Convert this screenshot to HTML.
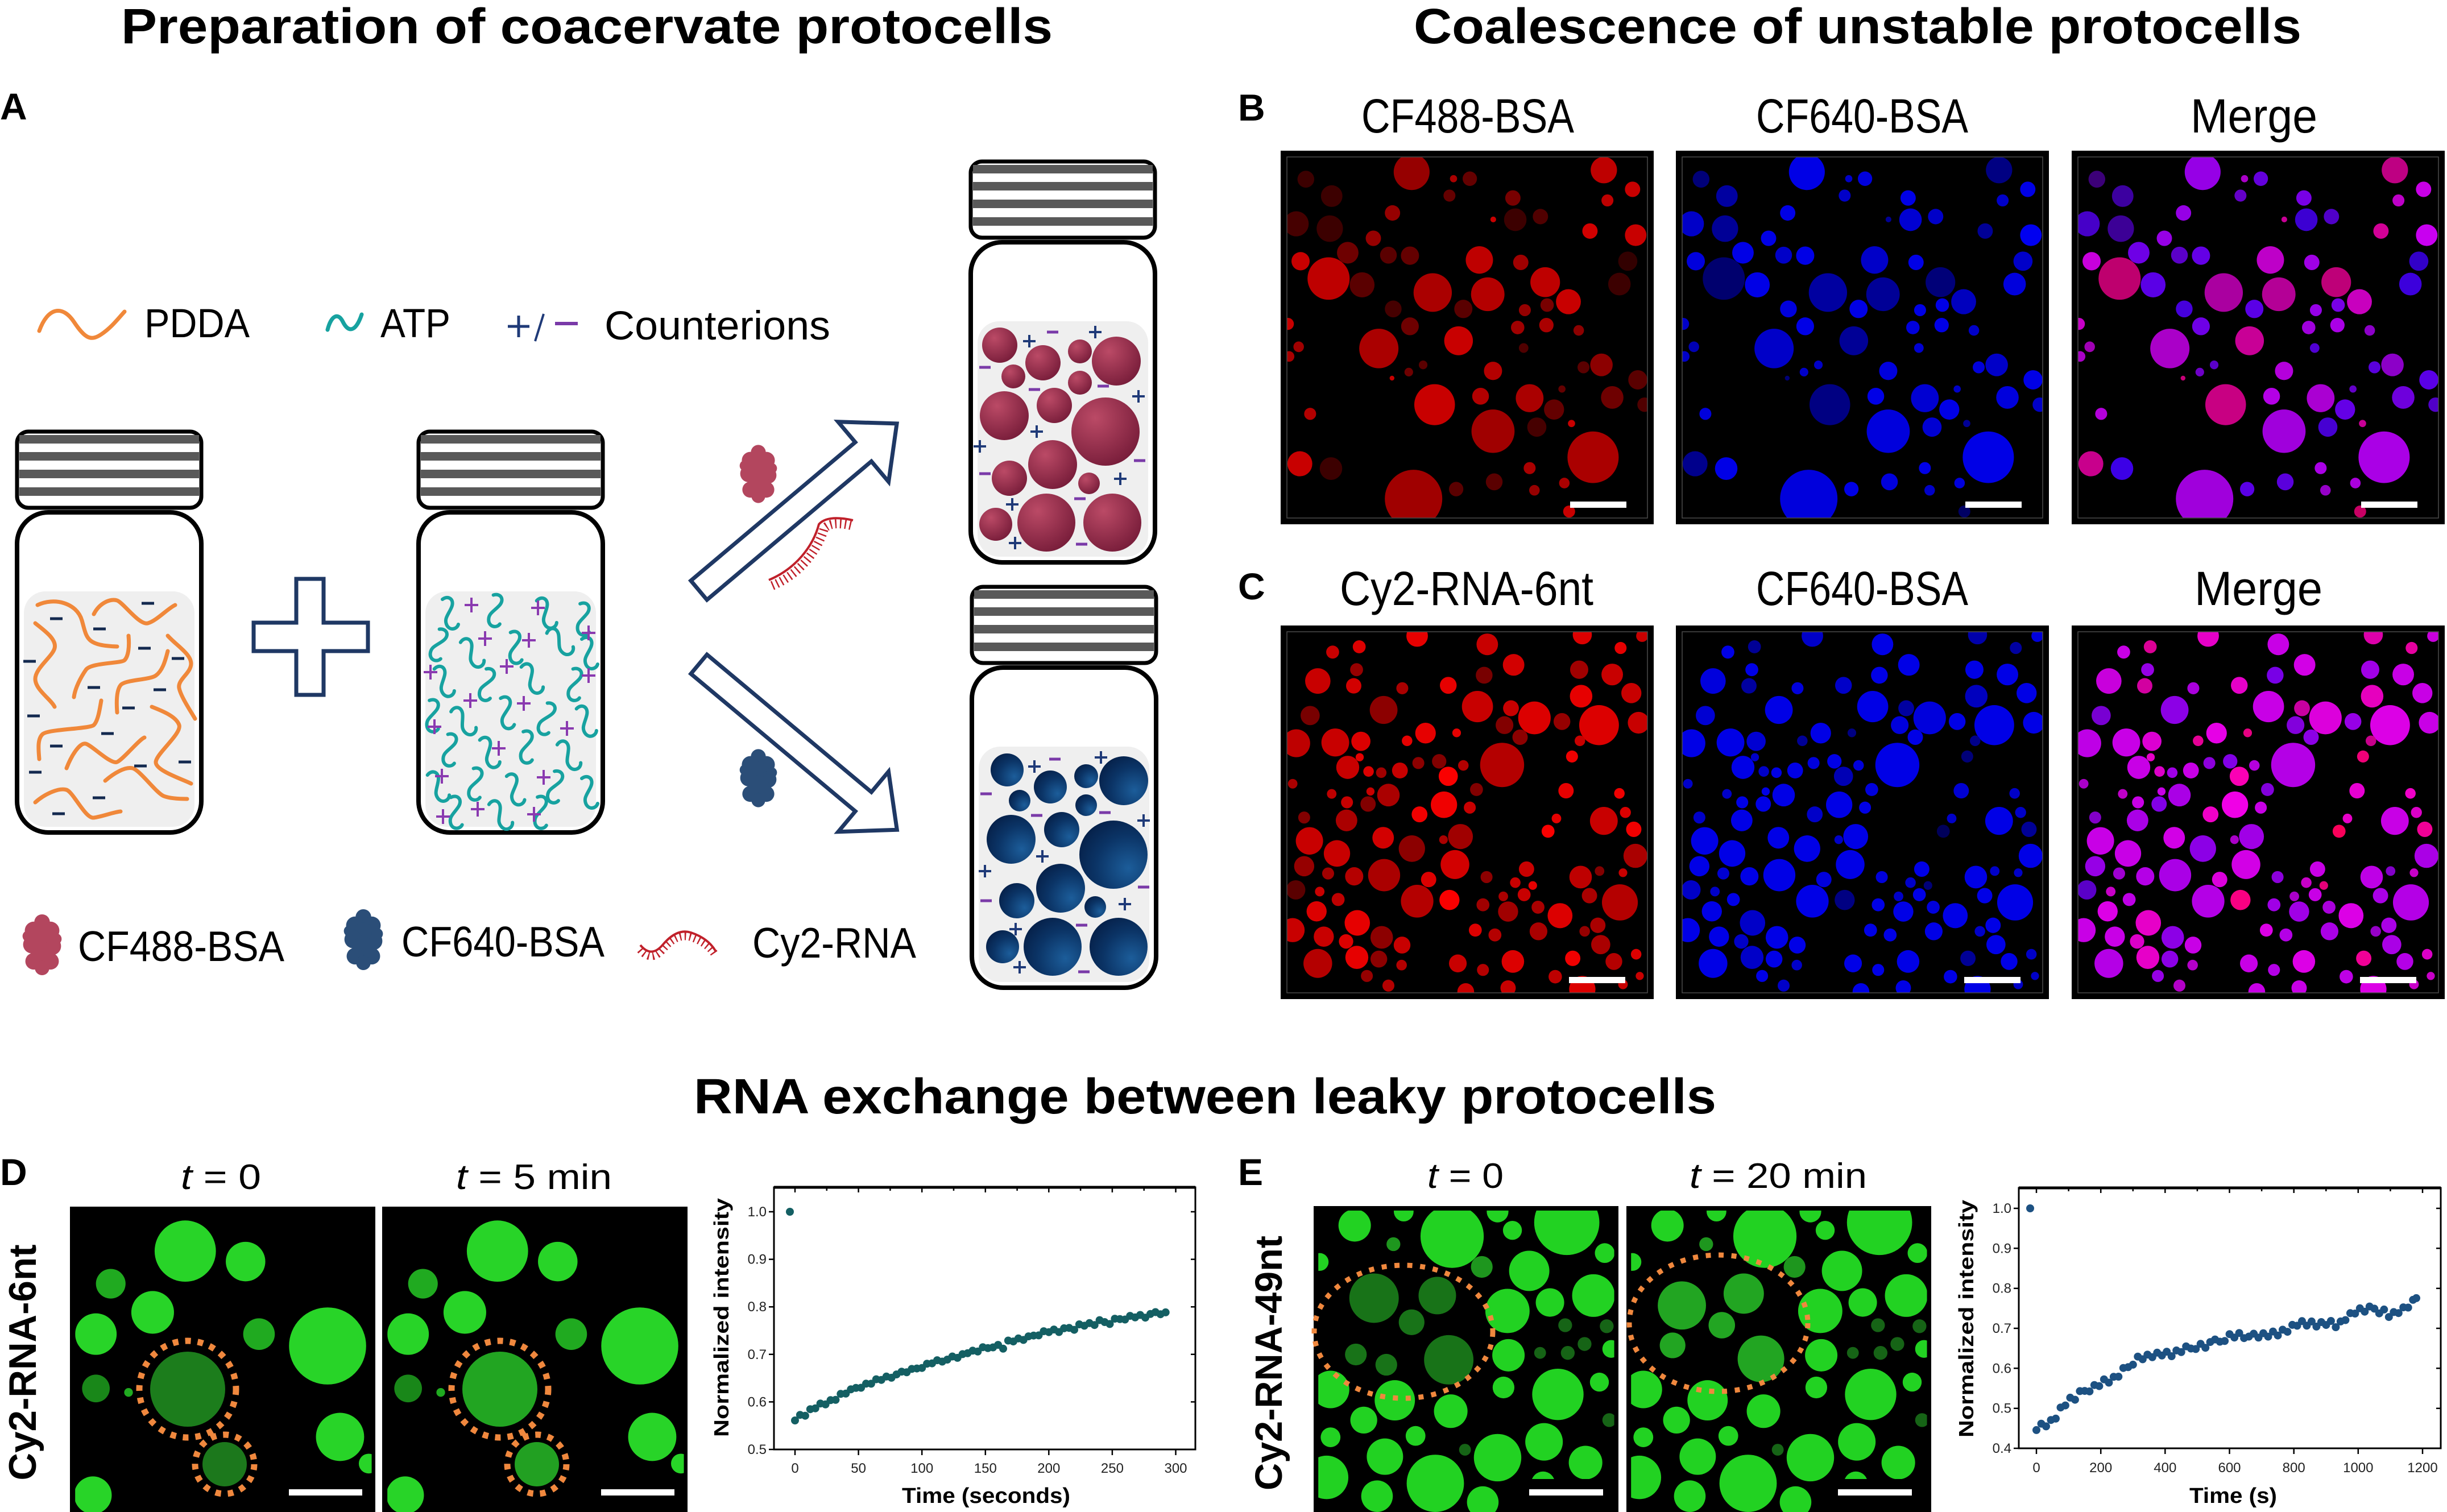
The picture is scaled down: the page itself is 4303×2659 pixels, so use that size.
<!DOCTYPE html>
<html><head><meta charset="utf-8"><style>html,body{margin:0;padding:0;background:#fff}svg{display:block}</style></head><body>
<svg xmlns="http://www.w3.org/2000/svg" width="4303" height="2659" viewBox="0 0 4303 2659" font-family="'Liberation Sans', Arial, sans-serif">
<defs>
<radialGradient id="gm" cx="35%" cy="30%" r="75%"><stop offset="0" stop-color="#bb4a66"/><stop offset="1" stop-color="#781d3a"/></radialGradient>
<radialGradient id="gn" cx="72%" cy="70%" r="80%"><stop offset="0" stop-color="#1c5d9a"/><stop offset="0.6" stop-color="#0b3466"/><stop offset="1" stop-color="#06214a"/></radialGradient>
<filter id="fRed" color-interpolation-filters="sRGB"><feColorMatrix type="matrix" values="1 0 0 0 0  0 0 0 0 0  0 0 0 0 0  0 0 0 1 0"/></filter>
<filter id="fBlue" color-interpolation-filters="sRGB"><feColorMatrix type="matrix" values="0 0 0 0 0  0 0 0 0 0  0 0 1 0 0  0 0 0 1 0"/></filter>
<clipPath id="cpBC"><rect x="32" y="38" width="1504" height="1497"/></clipPath>
<clipPath id="cpD"><rect x="35" y="45" width="1500" height="1530"/></clipPath>
<clipPath id="cpE"><rect x="38" y="40" width="1497" height="1535"/></clipPath>
<g id="vial">
<rect x="3" y="145" width="324" height="563" rx="55" fill="#fff" stroke="#000" stroke-width="8"/>
<rect x="15" y="284" width="300" height="414" rx="38" fill="#efefef"/>
<rect x="3" y="3" width="324" height="134" rx="20" fill="#fff" stroke="#000" stroke-width="7"/>
<rect x="7" y="9" width="316" height="15" fill="#595959"/>
<rect x="7" y="39" width="316" height="15" fill="#595959"/>
<rect x="7" y="70" width="316" height="15" fill="#595959"/>
<rect x="7" y="101" width="316" height="15" fill="#595959"/>
</g>
<g id="pl"><path d="M-11,0h22M0,-11v22" stroke="#1f3a78" stroke-width="4" fill="none"/></g>
<g id="mi"><path d="M-10,0h20" stroke="#7a3aa8" stroke-width="5"/></g>
<g id="mn"><path d="M-11,0h22" stroke="#13294f" stroke-width="5"/></g>
<g id="pp"><path d="M-12,0h24M0,-13v26" stroke="#8a3ab0" stroke-width="4" fill="none"/></g>
<g id="sq"><path d="M-12,-26 C-2,-34 10,-26 4,-12 C-2,2 -10,8 -4,20 C2,30 14,26 16,18" stroke="#17a2a0" stroke-width="6" fill="none" stroke-linecap="round"/></g>
<symbol id="blob" viewBox="0 0 80 110"><circle cx="40" cy="15" r="14"/><circle cx="25" cy="30" r="16"/><circle cx="55" cy="30" r="16"/><circle cx="40" cy="45" r="20"/><circle cx="22" cy="55" r="16"/><circle cx="58" cy="58" r="16"/><circle cx="40" cy="70" r="20"/><circle cx="25" cy="85" r="15"/><circle cx="55" cy="85" r="15"/><circle cx="40" cy="97" r="13"/><circle cx="15" cy="40" r="10"/><circle cx="65" cy="45" r="10"/></symbol>

<g id="bset" transform="translate(2250,260) scale(0.4209,0.4241)" clip-path="url(#cpBC)">
<circle cx="552" cy="100" r="75" fill="rgb(150,0,230)"/><circle cx="1355" cy="92" r="55" fill="rgb(190,0,130)"/><circle cx="1475" cy="172" r="32" fill="rgb(200,0,230)"/><circle cx="1370" cy="218" r="25" fill="rgb(190,0,200)"/><circle cx="110" cy="130" r="35" fill="rgb(60,0,120)"/><circle cx="218" cy="200" r="45" fill="rgb(60,0,160)"/><circle cx="472" cy="270" r="32" fill="rgb(150,0,230)"/><circle cx="70" cy="315" r="52" fill="rgb(70,0,200)"/><circle cx="210" cy="335" r="55" fill="rgb(60,0,150)"/><circle cx="392" cy="375" r="32" fill="rgb(150,0,230)"/><circle cx="285" cy="435" r="45" fill="rgb(110,0,230)"/><circle cx="88" cy="470" r="38" fill="rgb(200,0,220)"/><circle cx="205" cy="542" r="88" fill="rgb(190,0,110)"/><circle cx="345" cy="568" r="52" fill="rgb(90,0,230)"/><circle cx="455" cy="445" r="35" fill="rgb(90,0,200)"/><circle cx="545" cy="447" r="38" fill="rgb(100,0,230)"/><circle cx="640" cy="600" r="80" fill="rgb(170,0,160)"/><circle cx="835" cy="465" r="57" fill="rgb(190,0,200)"/><circle cx="870" cy="607" r="70" fill="rgb(180,0,150)"/><circle cx="768" cy="668" r="38" fill="rgb(90,0,230)"/><circle cx="727" cy="128" r="15" fill="rgb(170,0,200)"/><circle cx="795" cy="128" r="30" fill="rgb(100,0,220)"/><circle cx="710" cy="198" r="25" fill="rgb(100,0,200)"/><circle cx="975" cy="208" r="32" fill="rgb(120,0,230)"/><circle cx="985" cy="298" r="47" fill="rgb(60,0,210)"/><circle cx="1090" cy="285" r="32" fill="rgb(80,0,200)"/><circle cx="1297" cy="345" r="32" fill="rgb(210,0,150)"/><circle cx="1488" cy="362" r="45" fill="rgb(200,0,240)"/><circle cx="1008" cy="475" r="32" fill="rgb(160,0,230)"/><circle cx="1110" cy="557" r="62" fill="rgb(190,0,120)"/><circle cx="1207" cy="638" r="52" fill="rgb(200,0,190)"/><circle cx="1118" cy="652" r="28" fill="rgb(120,0,230)"/><circle cx="1025" cy="673" r="25" fill="rgb(150,0,230)"/><circle cx="1420" cy="565" r="47" fill="rgb(60,0,220)"/><circle cx="1455" cy="470" r="40" fill="rgb(50,0,200)"/><circle cx="545" cy="740" r="37" fill="rgb(110,0,230)"/><circle cx="475" cy="668" r="35" fill="rgb(70,0,220)"/><circle cx="35" cy="730" r="25" fill="rgb(200,0,200)"/><circle cx="415" cy="832" r="82" fill="rgb(170,0,200)"/><circle cx="748" cy="800" r="60" fill="rgb(200,0,150)"/><circle cx="995" cy="745" r="28" fill="rgb(160,0,220)"/><circle cx="1115" cy="735" r="30" fill="rgb(170,0,230)"/><circle cx="1250" cy="757" r="22" fill="rgb(140,0,200)"/><circle cx="80" cy="825" r="22" fill="rgb(160,0,180)"/><circle cx="40" cy="865" r="22" fill="rgb(170,0,200)"/><circle cx="892" cy="925" r="38" fill="rgb(180,0,220)"/><circle cx="1345" cy="900" r="47" fill="rgb(140,0,200)"/><circle cx="1497" cy="962" r="40" fill="rgb(90,0,230)"/><circle cx="648" cy="1065" r="85" fill="rgb(200,0,130)"/><circle cx="840" cy="1030" r="35" fill="rgb(180,0,230)"/><circle cx="1045" cy="1038" r="58" fill="rgb(170,0,210)"/><circle cx="1147" cy="1085" r="42" fill="rgb(100,0,230)"/><circle cx="1390" cy="1035" r="47" fill="rgb(110,0,220)"/><circle cx="1525" cy="1065" r="30" fill="rgb(80,0,200)"/><circle cx="892" cy="1175" r="90" fill="rgb(160,0,220)"/><circle cx="1075" cy="1158" r="40" fill="rgb(70,0,210)"/><circle cx="1310" cy="1283" r="107" fill="rgb(170,0,230)"/><circle cx="128" cy="1103" r="25" fill="rgb(180,0,220)"/><circle cx="85" cy="1310" r="52" fill="rgb(200,0,140)"/><circle cx="215" cy="1330" r="47" fill="rgb(60,0,230)"/><circle cx="560" cy="1455" r="120" fill="rgb(160,0,220)"/><circle cx="738" cy="1415" r="30" fill="rgb(90,0,230)"/><circle cx="897" cy="1385" r="35" fill="rgb(90,0,220)"/><circle cx="1045" cy="1328" r="25" fill="rgb(170,0,230)"/><circle cx="1065" cy="1420" r="22" fill="rgb(150,0,200)"/><circle cx="1190" cy="1390" r="22" fill="rgb(170,0,220)"/><circle cx="1210" cy="1508" r="25" fill="rgb(200,0,100)"/><circle cx="1220" cy="1143" r="15" fill="rgb(200,0,150)"/><circle cx="540" cy="930" r="18" fill="rgb(110,0,200)"/><circle cx="600" cy="900" r="18" fill="rgb(90,0,200)"/><circle cx="470" cy="955" r="10" fill="rgb(200,0,120)"/><circle cx="893" cy="297" r="12" fill="rgb(200,0,150)"/><circle cx="1180" cy="1000" r="15" fill="rgb(100,0,200)"/><circle cx="1270" cy="910" r="25" fill="rgb(90,0,220)"/><circle cx="1020" cy="830" r="20" fill="rgb(80,0,210)"/>
</g>

<g id="cset" transform="translate(2250,1095) scale(0.4209,0.4241)" clip-path="url(#cpBC)">
<circle cx="575" cy="55" r="45" fill="rgb(230,0,200)"/><circle cx="868" cy="90" r="45" fill="rgb(200,0,230)"/><circle cx="1265" cy="50" r="40" fill="rgb(220,0,170)"/><circle cx="1515" cy="55" r="25" fill="rgb(200,0,220)"/><circle cx="333" cy="100" r="27" fill="rgb(220,0,150)"/><circle cx="222" cy="122" r="27" fill="rgb(200,0,230)"/><circle cx="978" cy="175" r="45" fill="rgb(210,0,230)"/><circle cx="1425" cy="105" r="25" fill="rgb(230,0,160)"/><circle cx="1252" cy="195" r="38" fill="rgb(160,0,230)"/><circle cx="1390" cy="215" r="45" fill="rgb(200,0,230)"/><circle cx="160" cy="242" r="53" fill="rgb(200,0,220)"/><circle cx="310" cy="262" r="32" fill="rgb(210,0,160)"/><circle cx="322" cy="195" r="27" fill="rgb(150,0,230)"/><circle cx="513" cy="272" r="25" fill="rgb(170,0,220)"/><circle cx="705" cy="260" r="35" fill="rgb(230,0,200)"/><circle cx="855" cy="218" r="35" fill="rgb(120,0,230)"/><circle cx="1260" cy="305" r="47" fill="rgb(230,0,190)"/><circle cx="1470" cy="292" r="42" fill="rgb(200,0,230)"/><circle cx="435" cy="362" r="58" fill="rgb(140,0,230)"/><circle cx="128" cy="385" r="40" fill="rgb(120,0,210)"/><circle cx="827" cy="348" r="65" fill="rgb(200,0,230)"/><circle cx="967" cy="355" r="33" fill="rgb(200,0,160)"/><circle cx="1065" cy="395" r="68" fill="rgb(220,0,220)"/><circle cx="1180" cy="410" r="35" fill="rgb(150,0,230)"/><circle cx="1335" cy="425" r="83" fill="rgb(220,0,230)"/><circle cx="1500" cy="415" r="45" fill="rgb(200,0,230)"/><circle cx="940" cy="425" r="37" fill="rgb(130,0,220)"/><circle cx="1005" cy="475" r="32" fill="rgb(140,0,230)"/><circle cx="70" cy="500" r="58" fill="rgb(190,0,230)"/><circle cx="233" cy="497" r="58" fill="rgb(200,0,230)"/><circle cx="340" cy="492" r="40" fill="rgb(220,0,210)"/><circle cx="610" cy="458" r="43" fill="rgb(230,0,230)"/><circle cx="740" cy="457" r="18" fill="rgb(230,0,130)"/><circle cx="533" cy="490" r="22" fill="rgb(230,0,150)"/><circle cx="930" cy="590" r="92" fill="rgb(180,0,230)"/><circle cx="1255" cy="490" r="22" fill="rgb(200,0,140)"/><circle cx="1222" cy="555" r="25" fill="rgb(240,0,120)"/><circle cx="285" cy="600" r="48" fill="rgb(200,0,230)"/><circle cx="335" cy="558" r="17" fill="rgb(230,0,200)"/><circle cx="503" cy="613" r="33" fill="rgb(200,0,230)"/><circle cx="372" cy="617" r="22" fill="rgb(220,0,200)"/><circle cx="425" cy="622" r="22" fill="rgb(160,0,230)"/><circle cx="580" cy="582" r="25" fill="rgb(140,0,220)"/><circle cx="667" cy="575" r="30" fill="rgb(130,0,230)"/><circle cx="705" cy="637" r="40" fill="rgb(250,0,180)"/><circle cx="768" cy="592" r="22" fill="rgb(180,0,220)"/><circle cx="55" cy="668" r="20" fill="rgb(170,0,200)"/><circle cx="455" cy="715" r="47" fill="rgb(170,0,230)"/><circle cx="687" cy="755" r="55" fill="rgb(240,0,230)"/><circle cx="585" cy="795" r="33" fill="rgb(240,0,200)"/><circle cx="380" cy="700" r="17" fill="rgb(200,0,230)"/><circle cx="370" cy="752" r="32" fill="rgb(130,0,230)"/><circle cx="282" cy="745" r="25" fill="rgb(200,0,230)"/><circle cx="218" cy="710" r="20" fill="rgb(190,0,200)"/><circle cx="823" cy="692" r="27" fill="rgb(130,0,220)"/><circle cx="795" cy="767" r="25" fill="rgb(200,0,230)"/><circle cx="1197" cy="697" r="32" fill="rgb(230,0,210)"/><circle cx="1420" cy="708" r="22" fill="rgb(240,0,200)"/><circle cx="280" cy="820" r="45" fill="rgb(170,0,230)"/><circle cx="103" cy="808" r="25" fill="rgb(130,0,200)"/><circle cx="1355" cy="822" r="58" fill="rgb(200,0,230)"/><circle cx="1157" cy="812" r="20" fill="rgb(230,0,200)"/><circle cx="1122" cy="865" r="27" fill="rgb(250,0,90)"/><circle cx="1480" cy="857" r="32" fill="rgb(240,0,150)"/><circle cx="1445" cy="787" r="23" fill="rgb(220,0,200)"/><circle cx="125" cy="905" r="57" fill="rgb(200,0,230)"/><circle cx="433" cy="892" r="45" fill="rgb(210,0,230)"/><circle cx="553" cy="937" r="55" fill="rgb(140,0,230)"/><circle cx="756" cy="887" r="52" fill="rgb(160,0,230)"/><circle cx="240" cy="957" r="55" fill="rgb(200,0,230)"/><circle cx="685" cy="900" r="18" fill="rgb(170,0,200)"/><circle cx="1487" cy="967" r="50" fill="rgb(170,0,230)"/><circle cx="103" cy="1010" r="42" fill="rgb(150,0,230)"/><circle cx="437" cy="1047" r="67" fill="rgb(170,0,230)"/><circle cx="312" cy="1052" r="38" fill="rgb(180,0,230)"/><circle cx="203" cy="1040" r="25" fill="rgb(160,0,210)"/><circle cx="733" cy="1003" r="60" fill="rgb(210,0,230)"/><circle cx="623" cy="1065" r="32" fill="rgb(220,0,220)"/><circle cx="1032" cy="1022" r="32" fill="rgb(200,0,230)"/><circle cx="1258" cy="1055" r="47" fill="rgb(190,0,230)"/><circle cx="1337" cy="1030" r="20" fill="rgb(130,0,200)"/><circle cx="1435" cy="1037" r="18" fill="rgb(200,0,200)"/><circle cx="865" cy="1055" r="25" fill="rgb(140,0,220)"/><circle cx="985" cy="1078" r="22" fill="rgb(200,0,200)"/><circle cx="1058" cy="1090" r="18" fill="rgb(230,0,120)"/><circle cx="68" cy="1108" r="40" fill="rgb(90,0,200)"/><circle cx="575" cy="1155" r="68" fill="rgb(180,0,230)"/><circle cx="710" cy="1150" r="42" fill="rgb(250,0,130)"/><circle cx="1422" cy="1160" r="75" fill="rgb(180,0,230)"/><circle cx="1295" cy="1132" r="32" fill="rgb(170,0,230)"/><circle cx="168" cy="1115" r="20" fill="rgb(200,0,200)"/><circle cx="245" cy="1148" r="27" fill="rgb(190,0,230)"/><circle cx="1022" cy="1128" r="27" fill="rgb(200,0,230)"/><circle cx="935" cy="1135" r="20" fill="rgb(170,0,200)"/><circle cx="155" cy="1197" r="42" fill="rgb(220,0,230)"/><circle cx="325" cy="1245" r="53" fill="rgb(230,0,200)"/><circle cx="55" cy="1275" r="50" fill="rgb(200,0,230)"/><circle cx="955" cy="1198" r="42" fill="rgb(160,0,230)"/><circle cx="1172" cy="1215" r="52" fill="rgb(220,0,230)"/><circle cx="850" cy="1170" r="27" fill="rgb(160,0,230)"/><circle cx="1080" cy="1180" r="27" fill="rgb(170,0,220)"/><circle cx="1330" cy="1255" r="32" fill="rgb(170,0,230)"/><circle cx="185" cy="1302" r="42" fill="rgb(200,0,230)"/><circle cx="427" cy="1305" r="47" fill="rgb(140,0,230)"/><circle cx="512" cy="1337" r="35" fill="rgb(200,0,230)"/><circle cx="278" cy="1322" r="30" fill="rgb(220,0,200)"/><circle cx="818" cy="1275" r="27" fill="rgb(220,0,230)"/><circle cx="900" cy="1295" r="27" fill="rgb(180,0,230)"/><circle cx="1082" cy="1280" r="37" fill="rgb(170,0,230)"/><circle cx="1275" cy="1280" r="22" fill="rgb(150,0,200)"/><circle cx="160" cy="1413" r="60" fill="rgb(180,0,230)"/><circle cx="323" cy="1388" r="48" fill="rgb(230,0,200)"/><circle cx="415" cy="1395" r="35" fill="rgb(140,0,230)"/><circle cx="745" cy="1413" r="37" fill="rgb(200,0,230)"/><circle cx="850" cy="1440" r="25" fill="rgb(180,0,230)"/><circle cx="975" cy="1405" r="47" fill="rgb(220,0,230)"/><circle cx="1225" cy="1392" r="32" fill="rgb(240,0,150)"/><circle cx="1342" cy="1335" r="40" fill="rgb(170,0,230)"/><circle cx="1490" cy="1375" r="22" fill="rgb(220,0,200)"/><circle cx="1397" cy="1405" r="35" fill="rgb(180,0,230)"/><circle cx="1152" cy="1468" r="28" fill="rgb(190,0,230)"/><circle cx="1265" cy="1520" r="55" fill="rgb(220,0,230)"/><circle cx="955" cy="1515" r="32" fill="rgb(200,0,230)"/><circle cx="778" cy="1530" r="35" fill="rgb(200,0,230)"/><circle cx="510" cy="1420" r="22" fill="rgb(180,0,200)"/><circle cx="365" cy="1465" r="25" fill="rgb(150,0,230)"/><circle cx="455" cy="1505" r="25" fill="rgb(180,0,200)"/><circle cx="1505" cy="1465" r="17" fill="rgb(200,0,200)"/><circle cx="1435" cy="1500" r="20" fill="rgb(200,0,200)"/>
</g>

<g id="dset" transform="translate(120,2115) scale(0.3476)" clip-path="url(#cpD)">
<g fill="rgb(40,212,40)"><circle cx="592" cy="245" r="155"/><circle cx="897" cy="298" r="100"/><circle cx="427" cy="555" r="108"/><circle cx="140" cy="665" r="105"/><circle cx="1312" cy="725" r="195"/><circle cx="1375" cy="1185" r="122"/><circle cx="1520" cy="1320" r="50"/><circle cx="125" cy="1480" r="95"/></g>
<g fill="rgb(32,170,32)"><circle cx="215" cy="410" r="75"/><circle cx="965" cy="665" r="80"/><circle cx="305" cy="960" r="22"/></g>
<circle cx="140" cy="940" r="70" fill="rgb(25,135,25)"/>
</g>

<g id="eset" transform="translate(2305,2115) scale(0.3476)" clip-path="url(#cpE)">
<g fill="rgb(34,210,34)"><circle cx="222" cy="115" r="82"/><circle cx="715" cy="170" r="160"/><circle cx="1020" cy="140" r="48"/><circle cx="1295" cy="100" r="165"/><circle cx="470" cy="45" r="50"/><circle cx="945" cy="45" r="55"/><circle cx="1487" cy="255" r="50"/><circle cx="45" cy="300" r="45"/><circle cx="1105" cy="345" r="102"/><circle cx="995" cy="548" r="112"/><circle cx="1210" cy="505" r="72"/><circle cx="1430" cy="470" r="108"/><circle cx="1000" cy="772" r="82"/><circle cx="1520" cy="740" r="45"/><circle cx="100" cy="945" r="95"/><circle cx="975" cy="935" r="55"/><circle cx="1250" cy="970" r="130"/><circle cx="1460" cy="908" r="48"/><circle cx="425" cy="1000" r="102"/><circle cx="708" cy="1055" r="85"/><circle cx="268" cy="1100" r="68"/><circle cx="100" cy="1187" r="50"/><circle cx="530" cy="1180" r="50"/><circle cx="375" cy="1285" r="92"/><circle cx="945" cy="1290" r="120"/><circle cx="1180" cy="1210" r="95"/><circle cx="1390" cy="1315" r="85"/><circle cx="80" cy="1390" r="110"/><circle cx="630" cy="1420" r="145"/><circle cx="335" cy="1485" r="80"/><circle cx="870" cy="1515" r="80"/><circle cx="1175" cy="1420" r="60"/></g>
<g fill="rgb(30,150,30)"><circle cx="865" cy="325" r="55"/><circle cx="418" cy="210" r="35"/></g>
<g fill="rgb(22,100,22)"><circle cx="1287" cy="620" r="35"/><circle cx="1497" cy="625" r="35"/><circle cx="1385" cy="715" r="35"/><circle cx="1300" cy="760" r="35"/><circle cx="1160" cy="760" r="30"/><circle cx="780" cy="1250" r="30"/><circle cx="1510" cy="1100" r="35"/></g>
</g>
</defs>

<rect width="4303" height="2659" fill="#fff"/>

<!-- Titles -->
<text x="213" y="76" font-size="87" font-weight="bold" textLength="1638" lengthAdjust="spacingAndGlyphs">Preparation of coacervate protocells</text>
<text x="2486" y="76" font-size="87" font-weight="bold" textLength="1561" lengthAdjust="spacingAndGlyphs">Coalescence of unstable protocells</text>
<text x="1220" y="1958" font-size="87" font-weight="bold" textLength="1798" lengthAdjust="spacingAndGlyphs">RNA exchange between leaky protocells</text>

<!-- Panel letters -->
<g font-size="66" font-weight="bold">
<text x="0" y="210">A</text>
<text x="2177" y="212">B</text>
<text x="2177" y="1054">C</text>
<text x="0" y="2084">D</text>
<text x="2177" y="2084">E</text>
</g>

<!-- Panel A legend top -->
<path d="M69,582 C84,540 110,536 130,566 S160,600 178,588 S208,560 219,548" stroke="#f0883a" stroke-width="7" fill="none" stroke-linecap="round"/>
<text x="254" y="593" font-size="71" textLength="185" lengthAdjust="spacingAndGlyphs">PDDA</text>
<path d="M576,580 C582,556 594,548 603,566 S625,586 636,553" stroke="#17a2a0" stroke-width="7" fill="none" stroke-linecap="round"/>
<text x="669" y="593" font-size="71" textLength="123" lengthAdjust="spacingAndGlyphs">ATP</text>
<path d="M893,574h38M912,555v38" stroke="#1f3a78" stroke-width="5"/>
<path d="M956,552 L941,600" stroke="#1f3a78" stroke-width="4"/>
<rect x="976" y="566" width="40" height="6" fill="#7a3aa8"/>
<text x="1063" y="597" font-size="71" textLength="397" lengthAdjust="spacingAndGlyphs">Counterions</text>

<!-- Vials -->
<use href="#vial" x="27" y="756"/>
<use href="#vial" x="733" y="756"/>
<use href="#vial" x="1704" y="281"/>
<use href="#vial" x="1706" y="1029"/>

<!-- Vial 1 PDDA strands -->
<g stroke="#f0883a" stroke-width="7" fill="none" stroke-linecap="round">
<path d="M66,1064 C95,1050 135,1060 144,1091 S150,1135 206,1137"/>
<path d="M165,1080 C175,1060 195,1052 206,1056 S245,1100 260,1096 S295,1070 308,1064"/>
<path d="M62,1096 C80,1110 100,1125 96,1140 S62,1175 62,1194 S90,1230 96,1243"/>
<path d="M226,1118 C228,1140 225,1155 219,1161 S160,1165 151,1178 S132,1210 130,1226"/>
<path d="M295,1118 C310,1135 336,1150 336,1167 S312,1195 315,1210 S335,1250 343,1264"/>
<path d="M295,1145 C290,1165 285,1180 274,1188 S220,1195 212,1205 S205,1240 206,1253"/>
<path d="M178,1232 C175,1250 172,1268 165,1275 S85,1282 75,1291 S68,1320 69,1335"/>
<path d="M267,1243 C285,1250 310,1260 315,1275 S275,1325 274,1340 S320,1370 336,1378"/>
<path d="M117,1351 C125,1330 140,1305 151,1308 S195,1345 206,1340 S245,1300 254,1297"/>
<path d="M185,1373 C200,1360 220,1348 233,1351 S275,1395 288,1400 S320,1405 329,1405"/>
<path d="M62,1411 C80,1395 105,1385 117,1389 S150,1440 165,1438 S200,1428 212,1427"/>
</g>
<use href="#mn" x="260" y="1061"/><use href="#mn" x="99" y="1088"/><use href="#mn" x="175" y="1106"/><use href="#mn" x="254" y="1140"/><use href="#mn" x="313" y="1158"/><use href="#mn" x="52" y="1163"/><use href="#mn" x="165" y="1209"/><use href="#mn" x="281" y="1213"/><use href="#mn" x="226" y="1245"/><use href="#mn" x="59" y="1259"/><use href="#mn" x="189" y="1290"/><use href="#mn" x="99" y="1312"/><use href="#mn" x="247" y="1347"/><use href="#mn" x="325" y="1340"/><use href="#mn" x="62" y="1358"/><use href="#mn" x="174" y="1403"/><use href="#mn" x="103" y="1431"/>

<!-- Vial 2 ATP -->
<use href="#sq" transform="translate(790,1080) rotate(0)"/><use href="#sq" transform="translate(870,1075) rotate(20)"/><use href="#sq" transform="translate(960,1080) rotate(-10)"/><use href="#sq" transform="translate(1025,1090) rotate(15)"/>
<use href="#sq" transform="translate(770,1135) rotate(30)"/><use href="#sq" transform="translate(830,1150) rotate(-20)"/><use href="#sq" transform="translate(905,1140) rotate(10)"/><use href="#sq" transform="translate(985,1130) rotate(-30)"/><use href="#sq" transform="translate(1035,1150) rotate(0)"/>
<use href="#sq" transform="translate(780,1200) rotate(-10)"/><use href="#sq" transform="translate(855,1205) rotate(25)"/><use href="#sq" transform="translate(935,1195) rotate(-15)"/><use href="#sq" transform="translate(1010,1205) rotate(20)"/>
<use href="#sq" transform="translate(760,1260) rotate(15)"/><use href="#sq" transform="translate(815,1270) rotate(-25)"/><use href="#sq" transform="translate(890,1255) rotate(5)"/><use href="#sq" transform="translate(960,1265) rotate(30)"/><use href="#sq" transform="translate(1030,1270) rotate(-10)"/>
<use href="#sq" transform="translate(790,1320) rotate(20)"/><use href="#sq" transform="translate(860,1325) rotate(-10)"/><use href="#sq" transform="translate(925,1315) rotate(15)"/><use href="#sq" transform="translate(1000,1330) rotate(-20)"/>
<use href="#sq" transform="translate(770,1385) rotate(-15)"/><use href="#sq" transform="translate(835,1380) rotate(20)"/><use href="#sq" transform="translate(905,1390) rotate(-5)"/><use href="#sq" transform="translate(975,1385) rotate(25)"/><use href="#sq" transform="translate(1035,1395) rotate(0)"/>
<use href="#sq" transform="translate(800,1430) rotate(10)"/><use href="#sq" transform="translate(880,1435) rotate(-20)"/><use href="#sq" transform="translate(950,1430) rotate(15)"/>
<use href="#pp" x="829" y="1064"/><use href="#pp" x="946" y="1069"/><use href="#pp" x="853" y="1123"/><use href="#pp" x="930" y="1126"/><use href="#pp" x="1035" y="1113"/><use href="#pp" x="757" y="1182"/><use href="#pp" x="891" y="1172"/><use href="#pp" x="1035" y="1188"/><use href="#pp" x="827" y="1232"/><use href="#pp" x="921" y="1237"/><use href="#pp" x="764" y="1278"/><use href="#pp" x="997" y="1281"/><use href="#pp" x="877" y="1316"/><use href="#pp" x="777" y="1365"/><use href="#pp" x="956" y="1367"/><use href="#pp" x="840" y="1423"/><use href="#pp" x="779" y="1436"/><use href="#pp" x="939" y="1432"/>

<!-- Big plus -->
<polygon points="521,1018 569,1018 569,1095 647,1095 647,1145 569,1145 569,1222 521,1222 521,1145 446,1145 446,1095 521,1095" fill="#fff" stroke="#1f3864" stroke-width="7" stroke-linejoin="miter"/>

<!-- Arrows -->
<polygon transform="translate(1229,1038) rotate(-40.1)" points="0,-22 378,-22 378,-69 455,0 378,69 378,22 0,22" fill="#fff" stroke="#1f3864" stroke-width="7"/>
<polygon transform="translate(1229,1168) rotate(39.9)" points="0,-22 377,-22 377,-69 454,0 377,69 377,22 0,22" fill="#fff" stroke="#1f3864" stroke-width="7"/>

<!-- Proteins / RNA near arrows -->
<use href="#blob" x="1296" y="778" width="75" height="110" fill="#b3465e"/>
<use href="#blob" x="1296" y="1313" width="75" height="110" fill="#2b4e78"/>
<path d="M1352,1020 C1400,1000 1430,960 1440,922 Q1455,905 1500,915" stroke="#c0202a" stroke-width="4" fill="none"/>
<path d="M1358,1030 C1406,1010 1438,968 1449,930 Q1462,915 1500,925" stroke="#c0202a" stroke-width="16" fill="none" stroke-dasharray="2.5 6"/>

<!-- Vial 3 droplets -->
<g fill="url(#gm)">
<circle cx="1758" cy="607" r="31"/><circle cx="1834" cy="638" r="31"/><circle cx="1899" cy="618" r="21"/><circle cx="1963" cy="635" r="43"/><circle cx="1782" cy="662" r="21"/><circle cx="1899" cy="673" r="21"/><circle cx="1766" cy="731" r="43"/><circle cx="1854" cy="713" r="31"/><circle cx="1944" cy="759" r="60"/><circle cx="1851" cy="817" r="43"/><circle cx="1775" cy="841" r="31"/><circle cx="1915" cy="850" r="19"/><circle cx="1751" cy="922" r="29"/><circle cx="1840" cy="919" r="51"/><circle cx="1956" cy="919" r="51"/>
</g>
<use href="#pl" x="1810" y="600"/><use href="#pl" x="1926" y="584"/><use href="#pl" x="2002" y="697"/><use href="#pl" x="1823" y="759"/><use href="#pl" x="1723" y="785"/><use href="#pl" x="1970" y="842"/><use href="#pl" x="1780" y="887"/><use href="#pl" x="1785" y="955"/>
<use href="#mi" x="1851" y="584"/><use href="#mi" x="1732" y="646"/><use href="#mi" x="1819" y="685"/><use href="#mi" x="1940" y="679"/><use href="#mi" x="2004" y="810"/><use href="#mi" x="1732" y="833"/><use href="#mi" x="1899" y="877"/><use href="#mi" x="1902" y="957"/>

<!-- Vial 4 droplets -->
<g fill="url(#gn)">
<circle cx="1771" cy="1354" r="29"/><circle cx="1847" cy="1384" r="29"/><circle cx="1910" cy="1365" r="21"/><circle cx="1976" cy="1373" r="43"/><circle cx="1793" cy="1408" r="19"/><circle cx="1910" cy="1416" r="19"/><circle cx="1778" cy="1476" r="43"/><circle cx="1867" cy="1459" r="31"/><circle cx="1958" cy="1503" r="60"/><circle cx="1865" cy="1562" r="43"/><circle cx="1788" cy="1584" r="31"/><circle cx="1926" cy="1595" r="19"/><circle cx="1763" cy="1665" r="29"/><circle cx="1851" cy="1665" r="51"/><circle cx="1967" cy="1665" r="51"/>
</g>
<use href="#pl" x="1819" y="1348"/><use href="#pl" x="1936" y="1332"/><use href="#pl" x="2011" y="1443"/><use href="#pl" x="1833" y="1506"/><use href="#pl" x="1732" y="1532"/><use href="#pl" x="1978" y="1590"/><use href="#pl" x="1786" y="1634"/><use href="#pl" x="1793" y="1701"/>
<use href="#mi" x="1855" y="1335"/><use href="#mi" x="1734" y="1396"/><use href="#mi" x="1823" y="1434"/><use href="#mi" x="1943" y="1429"/><use href="#mi" x="2011" y="1560"/><use href="#mi" x="1734" y="1584"/><use href="#mi" x="1902" y="1627"/><use href="#mi" x="1906" y="1709"/>

<!-- Bottom legend A -->
<use href="#blob" x="34" y="1607" width="80" height="108" fill="#b3465e"/>
<text x="137" y="1690" font-size="75" textLength="363" lengthAdjust="spacingAndGlyphs">CF488-BSA</text>
<use href="#blob" x="599" y="1598" width="80" height="108" fill="#2b4e78"/>
<text x="706" y="1682" font-size="75" textLength="357" lengthAdjust="spacingAndGlyphs">CF640-BSA</text>
<path d="M1126,1662 Q1145,1685 1165,1662 Q1190,1632 1215,1640 Q1245,1650 1258,1672" stroke="#c0202a" stroke-width="4" fill="none"/>
<path d="M1126,1670 Q1145,1693 1165,1670 Q1190,1640 1215,1648 Q1245,1658 1258,1680" stroke="#c0202a" stroke-width="14" fill="none" stroke-dasharray="2.5 6"/>
<text x="1323" y="1684" font-size="75" textLength="288" lengthAdjust="spacingAndGlyphs">Cy2-RNA</text>

<!-- Panel B/C headers -->
<g font-size="84">
<text x="2394" y="233" textLength="374" lengthAdjust="spacingAndGlyphs">CF488-BSA</text>
<text x="3088" y="233" textLength="373" lengthAdjust="spacingAndGlyphs">CF640-BSA</text>
<text x="3852" y="233" textLength="223" lengthAdjust="spacingAndGlyphs">Merge</text>
<text x="2356" y="1064" textLength="446" lengthAdjust="spacingAndGlyphs">Cy2-RNA-6nt</text>
<text x="3088" y="1064" textLength="373" lengthAdjust="spacingAndGlyphs">CF640-BSA</text>
<text x="3859" y="1064" textLength="225" lengthAdjust="spacingAndGlyphs">Merge</text>
</g>

<!-- Frames B/C -->
<g fill="#000">
<rect x="2252" y="265" width="656" height="657"/><rect x="2947" y="265" width="656" height="657"/><rect x="3643" y="265" width="656" height="657"/>
<rect x="2252" y="1100" width="656" height="657"/><rect x="2947" y="1100" width="656" height="657"/><rect x="3643" y="1100" width="656" height="657"/>
</g>
<use href="#bset" filter="url(#fRed)"/>
<use href="#bset" transform="translate(695,0)" filter="url(#fBlue)"/>
<use href="#bset" transform="translate(1391,0)"/>
<use href="#cset" filter="url(#fRed)"/>
<use href="#cset" transform="translate(695,0)" filter="url(#fBlue)"/>
<use href="#cset" transform="translate(1391,0)"/>
<g fill="none" stroke="#4a4a4a" stroke-width="1.5">
<rect x="2263" y="276" width="634" height="635"/><rect x="2958" y="276" width="634" height="635"/><rect x="3654" y="276" width="634" height="635"/>
<rect x="2263" y="1111" width="634" height="635"/><rect x="2958" y="1111" width="634" height="635"/><rect x="3654" y="1111" width="634" height="635"/>
</g>
<g fill="#fff">
<rect x="2761" y="882" width="99" height="11"/><rect x="3456" y="882" width="99" height="11"/><rect x="4152" y="882" width="99" height="11"/>
<rect x="2759" y="1718" width="99" height="11"/><rect x="3454" y="1718" width="99" height="11"/><rect x="4150" y="1718" width="99" height="11"/>
</g>

<!-- Panel D -->
<text transform="translate(63,2396) rotate(-90)" text-anchor="middle" font-size="68" font-weight="bold" textLength="415" lengthAdjust="spacingAndGlyphs">Cy2-RNA-6nt</text>
<text x="318" y="2091" font-size="62" textLength="141" lengthAdjust="spacingAndGlyphs"><tspan font-style="italic">t</tspan> = 0</text>
<text x="802" y="2091" font-size="62" textLength="274" lengthAdjust="spacingAndGlyphs"><tspan font-style="italic">t</tspan> = 5 min</text>
<rect x="123" y="2122" width="537" height="537" fill="#000"/>
<rect x="672" y="2122" width="537" height="537" fill="#000"/>
<use href="#dset"/>
<use href="#dset" transform="translate(549,0)"/>
<circle cx="330" cy="2443" r="66" fill="rgb(28,125,28)"/>
<circle cx="395" cy="2575" r="39" fill="rgb(28,120,28)"/>
<circle cx="879" cy="2443" r="66" fill="rgb(34,165,34)"/>
<circle cx="944" cy="2575" r="39" fill="rgb(34,160,34)"/>
<g fill="none" stroke="#f0883e" stroke-width="11" stroke-dasharray="10 12">
<circle cx="330" cy="2443" r="85"/><circle cx="395" cy="2575" r="52"/>
<circle cx="879" cy="2443" r="85"/><circle cx="944" cy="2575" r="52"/>
</g>
<rect x="508" y="2619" width="129" height="11" fill="#fff"/>
<rect x="1057" y="2619" width="129" height="11" fill="#fff"/>

<!-- Chart D -->
<g stroke="#000" fill="none">
<rect x="1361" y="2088" width="741" height="461" stroke-width="3"/>
<line x1="1361" y1="2088" x2="2102" y2="2088" stroke-width="5"/>
<path stroke-width="2.5" d="M1352,2131h9M1352,2214.6h9M1352,2298.2h9M1352,2381.8h9M1352,2465.4h9M1352,2549h9 M2094,2131h8M2094,2214.6h8M2094,2298.2h8M2094,2381.8h8M2094,2465.4h8 M1398,2549v10M1509.6,2549v10M1621.2,2549v10M1732.8,2549v10M1844.3,2549v10M1955.9,2549v10M2067.5,2549v10 M1398,2088v9M1453.8,2088v6M1509.6,2088v9M1565.4,2088v6M1621.2,2088v9M1677,2088v6M1732.8,2088v9M1788.6,2088v6M1844.3,2088v9M1900.1,2088v6M1955.9,2088v9M2011.7,2088v6M2067.5,2088v9"/>
</g>
<g font-size="24" fill="#222" text-anchor="end">
<text x="1348" y="2139">1.0</text><text x="1348" y="2222.6">0.9</text><text x="1348" y="2306.2">0.8</text><text x="1348" y="2389.8">0.7</text><text x="1348" y="2473.4">0.6</text><text x="1348" y="2557">0.5</text>
</g>
<g font-size="24" fill="#222" text-anchor="middle">
<text x="1398" y="2590">0</text><text x="1509.6" y="2590">50</text><text x="1621.2" y="2590">100</text><text x="1732.8" y="2590">150</text><text x="1844.3" y="2590">200</text><text x="1955.9" y="2590">250</text><text x="2067.5" y="2590">300</text>
</g>
<text transform="translate(1281,2317) rotate(-90)" text-anchor="middle" font-size="36" font-weight="bold" textLength="420" lengthAdjust="spacingAndGlyphs">Normalized intensity</text>
<text x="1734" y="2643" text-anchor="middle" font-size="38" font-weight="bold" textLength="296" lengthAdjust="spacingAndGlyphs">Time (seconds)</text>
<g fill="#145f63">
<circle cx="1389" cy="2131" r="7"/>
<circle cx="1398" cy="2498" r="7"/><circle cx="1406.9" cy="2488.2" r="7"/><circle cx="1415.9" cy="2489.7" r="7"/><circle cx="1424.8" cy="2478.2" r="7"/><circle cx="1433.7" cy="2476.7" r="7"/><circle cx="1442.6" cy="2468.2" r="7"/><circle cx="1451.6" cy="2469.8" r="7"/><circle cx="1460.5" cy="2462.3" r="7"/><circle cx="1469.4" cy="2461.8" r="7"/><circle cx="1478.3" cy="2451.3" r="7"/><circle cx="1487.3" cy="2450.8" r="7"/><circle cx="1496.2" cy="2443.3" r="7"/><circle cx="1505.1" cy="2440.8" r="7"/><circle cx="1514.1" cy="2440.5" r="7"/><circle cx="1523" cy="2433.3" r="7"/><circle cx="1531.9" cy="2433.4" r="7"/><circle cx="1540.8" cy="2425.6" r="7"/><circle cx="1549.8" cy="2426.7" r="7"/><circle cx="1558.7" cy="2420.8" r="7"/><circle cx="1567.6" cy="2422.9" r="7"/><circle cx="1576.5" cy="2417.1" r="7"/><circle cx="1585.5" cy="2412.2" r="7"/><circle cx="1594.4" cy="2413.3" r="7"/><circle cx="1603.3" cy="2407.4" r="7"/><circle cx="1612.3" cy="2406.6" r="7"/><circle cx="1621.2" cy="2405.7" r="7"/><circle cx="1630.1" cy="2398.2" r="7"/><circle cx="1639" cy="2397.6" r="7"/><circle cx="1648" cy="2392.1" r="7"/><circle cx="1656.9" cy="2394.5" r="7"/><circle cx="1665.8" cy="2391" r="7"/><circle cx="1674.7" cy="2385.5" r="7"/><circle cx="1683.7" cy="2387.9" r="7"/><circle cx="1692.6" cy="2381.4" r="7"/><circle cx="1701.5" cy="2379.8" r="7"/><circle cx="1710.4" cy="2375.3" r="7"/><circle cx="1719.4" cy="2376.8" r="7"/><circle cx="1728.3" cy="2369.2" r="7"/><circle cx="1737.2" cy="2370.8" r="7"/><circle cx="1746.2" cy="2369.5" r="7"/><circle cx="1755.1" cy="2365.1" r="7"/><circle cx="1764" cy="2371.8" r="7"/><circle cx="1772.9" cy="2357.5" r="7"/><circle cx="1781.9" cy="2359.1" r="7"/><circle cx="1790.8" cy="2353.8" r="7"/><circle cx="1799.7" cy="2356.4" r="7"/><circle cx="1808.6" cy="2350.1" r="7"/><circle cx="1817.6" cy="2348.7" r="7"/><circle cx="1826.5" cy="2348.4" r="7"/><circle cx="1835.4" cy="2341.1" r="7"/><circle cx="1844.4" cy="2342.7" r="7"/><circle cx="1853.3" cy="2338.1" r="7"/><circle cx="1862.2" cy="2342.5" r="7"/><circle cx="1871.1" cy="2335.9" r="7"/><circle cx="1880.1" cy="2335.3" r="7"/><circle cx="1889" cy="2338.6" r="7"/><circle cx="1897.9" cy="2329" r="7"/><circle cx="1906.8" cy="2331.4" r="7"/><circle cx="1915.8" cy="2326.8" r="7"/><circle cx="1924.7" cy="2330.2" r="7"/><circle cx="1933.6" cy="2321.6" r="7"/><circle cx="1942.5" cy="2325" r="7"/><circle cx="1951.5" cy="2328.4" r="7"/><circle cx="1960.4" cy="2319.1" r="7"/><circle cx="1969.3" cy="2319.8" r="7"/><circle cx="1978.3" cy="2320.5" r="7"/><circle cx="1987.2" cy="2314.1" r="7"/><circle cx="1996.1" cy="2316.8" r="7"/><circle cx="2005" cy="2312.5" r="7"/><circle cx="2014" cy="2317.2" r="7"/><circle cx="2022.9" cy="2310.8" r="7"/><circle cx="2031.8" cy="2307.5" r="7"/><circle cx="2040.7" cy="2311.2" r="7"/><circle cx="2049.7" cy="2307.9" r="7"/>
</g>

<!-- Panel E -->
<text transform="translate(2254,2397) rotate(-90)" text-anchor="middle" font-size="67" font-weight="bold" textLength="448" lengthAdjust="spacingAndGlyphs">Cy2-RNA-49nt</text>
<text x="2510" y="2089" font-size="62" textLength="134" lengthAdjust="spacingAndGlyphs"><tspan font-style="italic">t</tspan> = 0</text>
<text x="2971" y="2089" font-size="62" textLength="312" lengthAdjust="spacingAndGlyphs"><tspan font-style="italic">t</tspan> = 20 min</text>
<rect x="2310" y="2121" width="536" height="538" fill="#000"/>
<rect x="2860" y="2121" width="536" height="538" fill="#000"/>
<use href="#eset"/>
<use href="#eset" transform="translate(550,0)"/>
<g transform="translate(2305,2115) scale(0.3476)" fill="rgb(24,115,24)">
<circle cx="320" cy="483" r="125"/><circle cx="640" cy="470" r="95"/><circle cx="510" cy="605" r="65"/><circle cx="228" cy="768" r="55"/><circle cx="382" cy="820" r="55"/><circle cx="698" cy="795" r="125"/>
</g>
<g transform="translate(2855,2115) scale(0.3476)" fill="rgb(34,165,34)">
<circle cx="295" cy="520" r="122"/><circle cx="608" cy="460" r="102"/><circle cx="497" cy="620" r="67"/><circle cx="248" cy="722" r="65"/><circle cx="695" cy="790" r="118"/>
</g>
<g fill="none" stroke="#f0883e" stroke-width="9" stroke-dasharray="9 13.6">
<ellipse cx="2468" cy="2342" rx="157" ry="117"/>
<ellipse cx="3022" cy="2327" rx="157" ry="120"/>
</g>
<rect x="2686" y="2601" width="153" height="44" fill="#000"/>
<rect x="3233" y="2601" width="153" height="44" fill="#000"/>
<rect x="2689" y="2619" width="130" height="11" fill="#fff"/>
<rect x="3232" y="2619" width="130" height="11" fill="#fff"/>

<!-- Chart E -->
<g stroke="#000" fill="none">
<rect x="3550" y="2089" width="742" height="458" stroke-width="3"/>
<line x1="3550" y1="2089" x2="4292" y2="2089" stroke-width="5"/>
<path stroke-width="2.5" d="M3541,2125h9M3541,2195.3h9M3541,2265.7h9M3541,2336h9M3541,2406.3h9M3541,2476.7h9M3541,2547h9 M4284,2125h8M4284,2195.3h8M4284,2265.7h8M4284,2336h8M4284,2406.3h8M4284,2476.7h8 M3581,2547v10M3694.2,2547v10M3807.3,2547v10M3920.5,2547v10M4033.7,2547v10M4146.8,2547v10M4260,2547v10 M3581,2089v9M3637.6,2089v6M3694.2,2089v9M3750.8,2089v6M3807.3,2089v9M3863.9,2089v6M3920.5,2089v9M3977.1,2089v6M4033.7,2089v9M4090.3,2089v6M4146.8,2089v9M4203.4,2089v6M4260,2089v9"/>
</g>
<g font-size="24" fill="#222" text-anchor="end">
<text x="3537" y="2133">1.0</text><text x="3537" y="2203.3">0.9</text><text x="3537" y="2273.7">0.8</text><text x="3537" y="2344">0.7</text><text x="3537" y="2414.3">0.6</text><text x="3537" y="2484.7">0.5</text><text x="3537" y="2555">0.4</text>
</g>
<g font-size="24" fill="#222" text-anchor="middle">
<text x="3581" y="2589">0</text><text x="3694.2" y="2589">200</text><text x="3807.3" y="2589">400</text><text x="3920.5" y="2589">600</text><text x="4033.7" y="2589">800</text><text x="4146.8" y="2589">1000</text><text x="4260" y="2589">1200</text>
</g>
<text transform="translate(3470,2319) rotate(-90)" text-anchor="middle" font-size="36" font-weight="bold" textLength="418" lengthAdjust="spacingAndGlyphs">Normalized intensity</text>
<text x="3927" y="2643" text-anchor="middle" font-size="38" font-weight="bold" textLength="154" lengthAdjust="spacingAndGlyphs">Time (s)</text>
<g fill="#1d5182">
<circle cx="3570" cy="2125" r="7"/>
<circle cx="3581" cy="2514.9" r="7"/><circle cx="3589.5" cy="2503.7" r="7"/><circle cx="3598" cy="2508.4" r="7"/><circle cx="3606.5" cy="2497.2" r="7"/><circle cx="3615" cy="2494.8" r="7"/><circle cx="3623.5" cy="2475.2" r="7"/><circle cx="3631.9" cy="2471.6" r="7"/><circle cx="3640.4" cy="2457.9" r="7"/><circle cx="3648.9" cy="2461.6" r="7"/><circle cx="3657.4" cy="2446.4" r="7"/><circle cx="3665.9" cy="2446.1" r="7"/><circle cx="3674.4" cy="2446.9" r="7"/><circle cx="3682.9" cy="2435.7" r="7"/><circle cx="3691.4" cy="2437.6" r="7"/><circle cx="3699.9" cy="2425.7" r="7"/><circle cx="3708.4" cy="2431.5" r="7"/><circle cx="3716.8" cy="2421.3" r="7"/><circle cx="3725.3" cy="2421" r="7"/><circle cx="3733.8" cy="2405.7" r="7"/><circle cx="3742.3" cy="2404.3" r="7"/><circle cx="3750.8" cy="2399.9" r="7"/><circle cx="3759.3" cy="2385.7" r="7"/><circle cx="3767.8" cy="2390.4" r="7"/><circle cx="3776.3" cy="2382.2" r="7"/><circle cx="3784.8" cy="2386.8" r="7"/><circle cx="3793.3" cy="2378.8" r="7"/><circle cx="3801.7" cy="2383.8" r="7"/><circle cx="3810.2" cy="2377.1" r="7"/><circle cx="3818.7" cy="2385" r="7"/><circle cx="3827.2" cy="2374.9" r="7"/><circle cx="3835.7" cy="2377.8" r="7"/><circle cx="3844.2" cy="2367.7" r="7"/><circle cx="3852.7" cy="2371.5" r="7"/><circle cx="3861.2" cy="2372.4" r="7"/><circle cx="3869.7" cy="2363.3" r="7"/><circle cx="3878.2" cy="2370.2" r="7"/><circle cx="3886.6" cy="2360.1" r="7"/><circle cx="3895.1" cy="2355.6" r="7"/><circle cx="3903.6" cy="2359.5" r="7"/><circle cx="3912.1" cy="2358.3" r="7"/><circle cx="3920.6" cy="2346.2" r="7"/><circle cx="3929.1" cy="2352.2" r="7"/><circle cx="3937.6" cy="2344.2" r="7"/><circle cx="3946.1" cy="2353.2" r="7"/><circle cx="3954.6" cy="2350.5" r="7"/><circle cx="3963.1" cy="2345.4" r="7"/><circle cx="3971.5" cy="2352.3" r="7"/><circle cx="3980" cy="2344.6" r="7"/><circle cx="3988.5" cy="2350.6" r="7"/><circle cx="3997" cy="2341.6" r="7"/><circle cx="4005.5" cy="2348.6" r="7"/><circle cx="4014" cy="2338.4" r="7"/><circle cx="4022.5" cy="2342.1" r="7"/><circle cx="4031" cy="2329.9" r="7"/><circle cx="4039.5" cy="2331.4" r="7"/><circle cx="4048" cy="2323.3" r="7"/><circle cx="4056.4" cy="2331.3" r="7"/><circle cx="4064.9" cy="2323.9" r="7"/><circle cx="4073.4" cy="2332.9" r="7"/><circle cx="4081.9" cy="2325" r="7"/><circle cx="4090.4" cy="2330.1" r="7"/><circle cx="4098.9" cy="2323" r="7"/><circle cx="4107.4" cy="2334" r="7"/><circle cx="4115.9" cy="2323.9" r="7"/><circle cx="4124.4" cy="2321.5" r="7"/><circle cx="4132.9" cy="2309.3" r="7"/><circle cx="4141.3" cy="2310" r="7"/><circle cx="4149.8" cy="2300.8" r="7"/><circle cx="4158.3" cy="2306.7" r="7"/><circle cx="4166.8" cy="2297.6" r="7"/><circle cx="4175.3" cy="2301.4" r="7"/><circle cx="4183.8" cy="2309.7" r="7"/><circle cx="4192.3" cy="2302.9" r="7"/><circle cx="4200.8" cy="2316.1" r="7"/><circle cx="4209.3" cy="2307.4" r="7"/><circle cx="4217.8" cy="2309.2" r="7"/><circle cx="4226.2" cy="2299.1" r="7"/><circle cx="4234.7" cy="2299.5" r="7"/><circle cx="4243.2" cy="2285.9" r="7"/><circle cx="4249" cy="2282.9" r="7"/>
</g>
</svg>
</body></html>
